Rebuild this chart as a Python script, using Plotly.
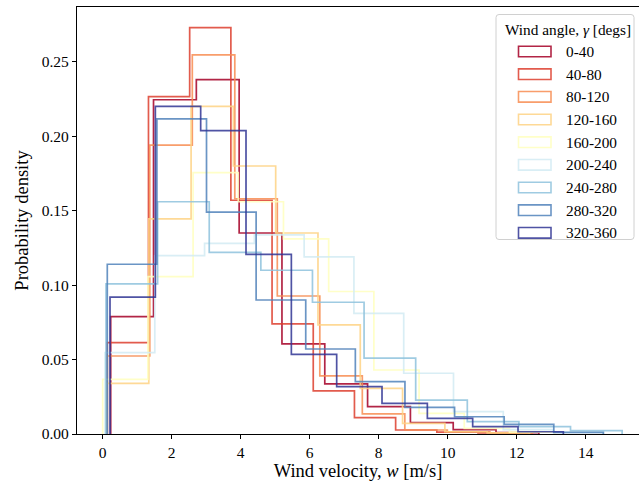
import numpy as np
import plotly.graph_objects as go

# ---- data ----
labels = ["0-40", "40-80", "80-120", "120-160", "160-200",
          "200-240", "240-280", "280-320", "320-360"]
bin_start = [0.232, 0.133, 0.133, 0.110, 0.000, 0.067, 0.096, 0.133, 0.212]
bin_width = [1.241, 1.194, 1.232, 1.226, 1.310, 1.443, 1.496, 1.438, 1.314]
dens_0_40 = [0.0788, 0.2245, 0.238, 0.135, 0.0605, 0.0336, 0.0184, 0.0076, 0.0030, 0.0009]
dens_40_80 = [0.0614, 0.2266, 0.273, 0.157, 0.074, 0.029, 0.011, 0.0027, 0.0013, 0.0007]
dens_80_120 = [0.0524, 0.194, 0.2547, 0.158, 0.0927, 0.039, 0.0135, 0.0027, 0.0015, 0.0007]
dens_120_160 = [0.034, 0.1445, 0.220, 0.180, 0.135, 0.0733, 0.0307, 0.0072, 0.0015, 0.0007]
dens_160_200 = [0.0367, 0.1057, 0.1756, 0.156, 0.131, 0.0957, 0.043, 0.0139, 0.0038, 0.0013]
dens_200_240 = [0.0546, 0.1198, 0.128, 0.1337, 0.119, 0.081, 0.0408, 0.015, 0.0030, 0.0010]
dens_240_280 = [0.1008, 0.156, 0.122, 0.110, 0.0885, 0.0509, 0.0228, 0.0083, 0.0049, 0.0022]
dens_280_320 = [0.114, 0.2117, 0.149, 0.090, 0.0571, 0.0352, 0.0179, 0.0116, 0.0065, 0.0011]
dens_320_360 = [0.092, 0.220, 0.2038, 0.1207, 0.0535, 0.0318, 0.0206, 0.0105, 0.0049, 0.0015]
densities = [dens_0_40, dens_40_80, dens_80_120, dens_120_160, dens_160_200,
             dens_200_240, dens_240_280, dens_280_320, dens_320_360]
x_ticks = [0, 2, 4, 6, 8, 10, 12, 14]
y_ticks = [0.00, 0.05, 0.10, 0.15, 0.20, 0.25]

# ---- styles ----
colors = ["#a50026", "#de3f2e", "#f88d52", "#fed384", "#ffffbf",
          "#d3ecf4", "#8fc3dd", "#5183bb", "#313695"]
FONT = "Liberation Serif, Times New Roman, serif"
W, H = 639, 485
ML, MR, MT, MB = 77, 0, 7, 51
PW, PH = W - ML - MR, H - MT - MB
PX_PER_UNIT = 34.5
X0_PX = 102.7 - ML
x_range = [-X0_PX / PX_PER_UNIT, (PW - X0_PX) / PX_PER_UNIT]
y_range = [0, 0.2868]

fig = go.Figure()
for lab, s, w, h, c in zip(labels, bin_start, bin_width, densities, colors):
    edges = s + w * np.arange(len(h) + 1)
    xs = np.repeat(edges, 2)
    ys = np.concatenate([[0], np.repeat(h, 2), [0]])
    fig.add_trace(go.Scatter(x=xs, y=ys, mode="lines", name=lab,
                             line=dict(color=c, width=1.7), opacity=0.85,
                             showlegend=False, hoverinfo="skip"))

# ---- custom legend (pixel -> paper) ----
def px(xp):
    return (xp - ML) / PW

def py(yp):
    return (MT + PH - yp) / PH

shapes = []
annotations = []
lx0, lx1, ly0, ly1, r = 496, 634, 14.5, 239.5, 3
path = (f"M {px(lx0 + r)},{py(ly0)} L {px(lx1 - r)},{py(ly0)} "
        f"Q {px(lx1)},{py(ly0)} {px(lx1)},{py(ly0 + r)} "
        f"L {px(lx1)},{py(ly1 - r)} Q {px(lx1)},{py(ly1)} {px(lx1 - r)},{py(ly1)} "
        f"L {px(lx0 + r)},{py(ly1)} Q {px(lx0)},{py(ly1)} {px(lx0)},{py(ly1 - r)} "
        f"L {px(lx0)},{py(ly0 + r)} Q {px(lx0)},{py(ly0)} {px(lx0 + r)},{py(ly0)} Z")
shapes.append(dict(type="path", xref="paper", yref="paper", path=path,
                   line=dict(color="#d0d0d0", width=1),
                   fillcolor="rgba(255,255,255,0.85)", layer="above"))
annotations.append(dict(x=px(502.5), y=py(29.5), xref="paper", yref="paper",
                        text="Wind angle, <i>γ</i> [degs]", showarrow=False,
                        xanchor="left", yanchor="middle",
                        font=dict(family=FONT, size=15.3, color="black")))
for i, (lab, c) in enumerate(zip(labels, colors)):
    yc = 51.5 + 22.67 * i
    shapes.append(dict(type="rect", xref="paper", yref="paper",
                       x0=px(518.5), x1=px(551), y0=py(yc - 5.3), y1=py(yc + 5.3),
                       line=dict(color=c, width=1.6), fillcolor="rgba(0,0,0,0)",
                       opacity=0.85, layer="above"))
    annotations.append(dict(x=px(564), y=py(yc), xref="paper", yref="paper",
                            text=lab, showarrow=False, xanchor="left", yanchor="middle",
                            font=dict(family=FONT, size=15.3, color="black")))

fig.update_layout(
    width=W, height=H,
    margin=dict(l=ML, r=MR, t=MT, b=MB, pad=0),
    paper_bgcolor="white", plot_bgcolor="white",
    font=dict(family=FONT, size=15, color="black"),
    shapes=shapes, annotations=annotations,
    showlegend=False,
)
fig.update_xaxes(range=x_range, tickvals=x_ticks, ticktext=[str(t) for t in x_ticks],
                 ticks="outside", ticklen=4, tickwidth=1, tickcolor="black",
                 showline=True, linecolor="black", linewidth=1.1, mirror=True,
                 showgrid=False, zeroline=False,
                 tickfont=dict(family=FONT, size=15.5),
                 title=dict(text="Wind velocity, <i>w</i> [m/s]",
                            font=dict(family=FONT, size=18.5), standoff=3))
fig.update_yaxes(range=y_range, tickvals=y_ticks, ticktext=[f"{t:.2f}" for t in y_ticks],
                 ticks="outside", ticklen=4, tickwidth=1, tickcolor="black",
                 showline=True, linecolor="black", linewidth=1.1, mirror=False,
                 showgrid=False, zeroline=False,
                 tickfont=dict(family=FONT, size=15.5),
                 title=dict(text="Probability density",
                            font=dict(family=FONT, size=18.5), standoff=8))

fig.write_html("out.html")
